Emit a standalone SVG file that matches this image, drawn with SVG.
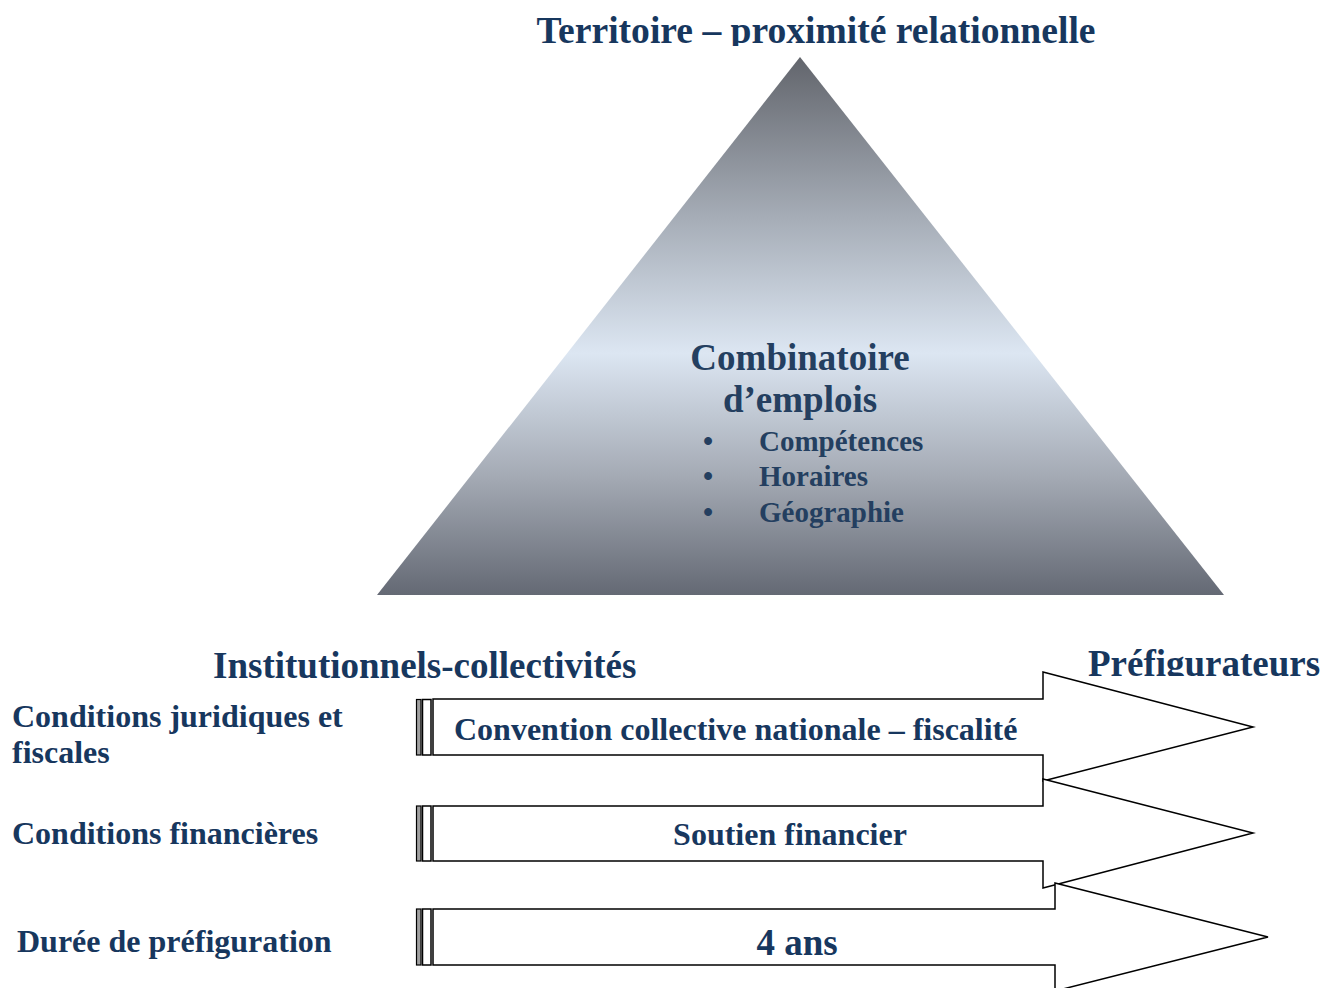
<svg xmlns="http://www.w3.org/2000/svg" width="1325" height="988" viewBox="0 0 1325 988">
<defs>
<linearGradient id="pyr" x1="0" y1="0" x2="0" y2="1">
<stop offset="0" stop-color="#62656c"/>
<stop offset="0.3" stop-color="#a6adb7"/>
<stop offset="0.55" stop-color="#dce6f2"/>
<stop offset="0.78" stop-color="#a4aab4"/>
<stop offset="1" stop-color="#646974"/>
</linearGradient>
<clipPath id="clipTitle"><rect x="0" y="0" width="1325" height="46"/></clipPath>
<clipPath id="clipPref"><rect x="1060" y="630" width="265" height="46"/></clipPath>
</defs>
<style>
text{font-family:"Liberation Serif","Times New Roman",serif;font-weight:bold;fill:#17375e}
.h{font-size:37px}
.t{font-size:37.6px}
.l{font-size:32px}
.b{font-size:29px;fill:#243f60}
.c{font-size:37px;fill:#243f60}
.arrow{fill:#fff;stroke:#000;stroke-width:1.5;stroke-linejoin:miter}
.s1{fill:#a0a0a0;stroke:#000;stroke-width:1.2}
.s2{fill:#fff;stroke:#000;stroke-width:1.5}
</style>
<rect width="1325" height="988" fill="#fff"/>
<g id="title"><text class="t" x="816" y="43" text-anchor="middle" clip-path="url(#clipTitle)">Territoire – proximité relationnelle</text></g>
<g id="pyramid">
<polygon points="800,57 1224,595 377,595" fill="url(#pyr)"/>
<text class="c" x="800" y="370" text-anchor="middle">Combinatoire</text>
<text class="c" x="800" y="412" text-anchor="middle">d’emplois</text>
<text class="b" x="708" y="451" text-anchor="middle">•</text>
<text class="b" x="759" y="451">Compétences</text>
<text class="b" x="708" y="486" text-anchor="middle">•</text>
<text class="b" x="759" y="486">Horaires</text>
<text class="b" x="708" y="522" text-anchor="middle">•</text>
<text class="b" x="759" y="522">Géographie</text>
</g>
<g id="headers">
<text class="h" x="213" y="678">Institutionnels-collectivités</text>
<text class="h" x="1088" y="676" clip-path="url(#clipPref)">Préfigurateurs</text>
</g>
<g id="labels">
<text class="l" x="12" y="727">Conditions juridiques et</text>
<text class="l" x="12" y="763">fiscales</text>
<text class="l" x="12" y="844">Conditions financières</text>
<text class="l" x="17" y="952">Durée de préfiguration</text>
</g>
<g id="connectors">
<g id="arrow1">
<rect class="s1" x="416.5" y="699.5" width="4.5" height="55.5"/>
<rect class="s2" x="422.5" y="699.5" width="8.5" height="55.5"/>
<polygon class="arrow" points="433,699 1043,699 1043,672 1253,727 1043,781 1043,755 433,755"/>
<text class="l" x="454" y="740">Convention collective nationale – fiscalité</text>
</g>
<g id="arrow2">
<rect class="s1" x="416.5" y="806" width="4.5" height="55"/>
<rect class="s2" x="422.5" y="806" width="8.5" height="55"/>
<polygon class="arrow" points="433,806 1043,806 1043,779 1253,833 1043,888 1043,861 433,861"/>
<text class="l" x="790" y="845" text-anchor="middle">Soutien financier</text>
</g>
<g id="arrow3">
<rect class="s1" x="416.5" y="909" width="4.5" height="56"/>
<rect class="s2" x="422.5" y="909" width="8.5" height="56"/>
<polygon class="arrow" points="433,909 1055,909 1055,883 1268,937 1055,991 1055,965 433,965"/>
<text class="h" x="797" y="955" text-anchor="middle">4 ans</text>
</g>
</g>
</svg>
